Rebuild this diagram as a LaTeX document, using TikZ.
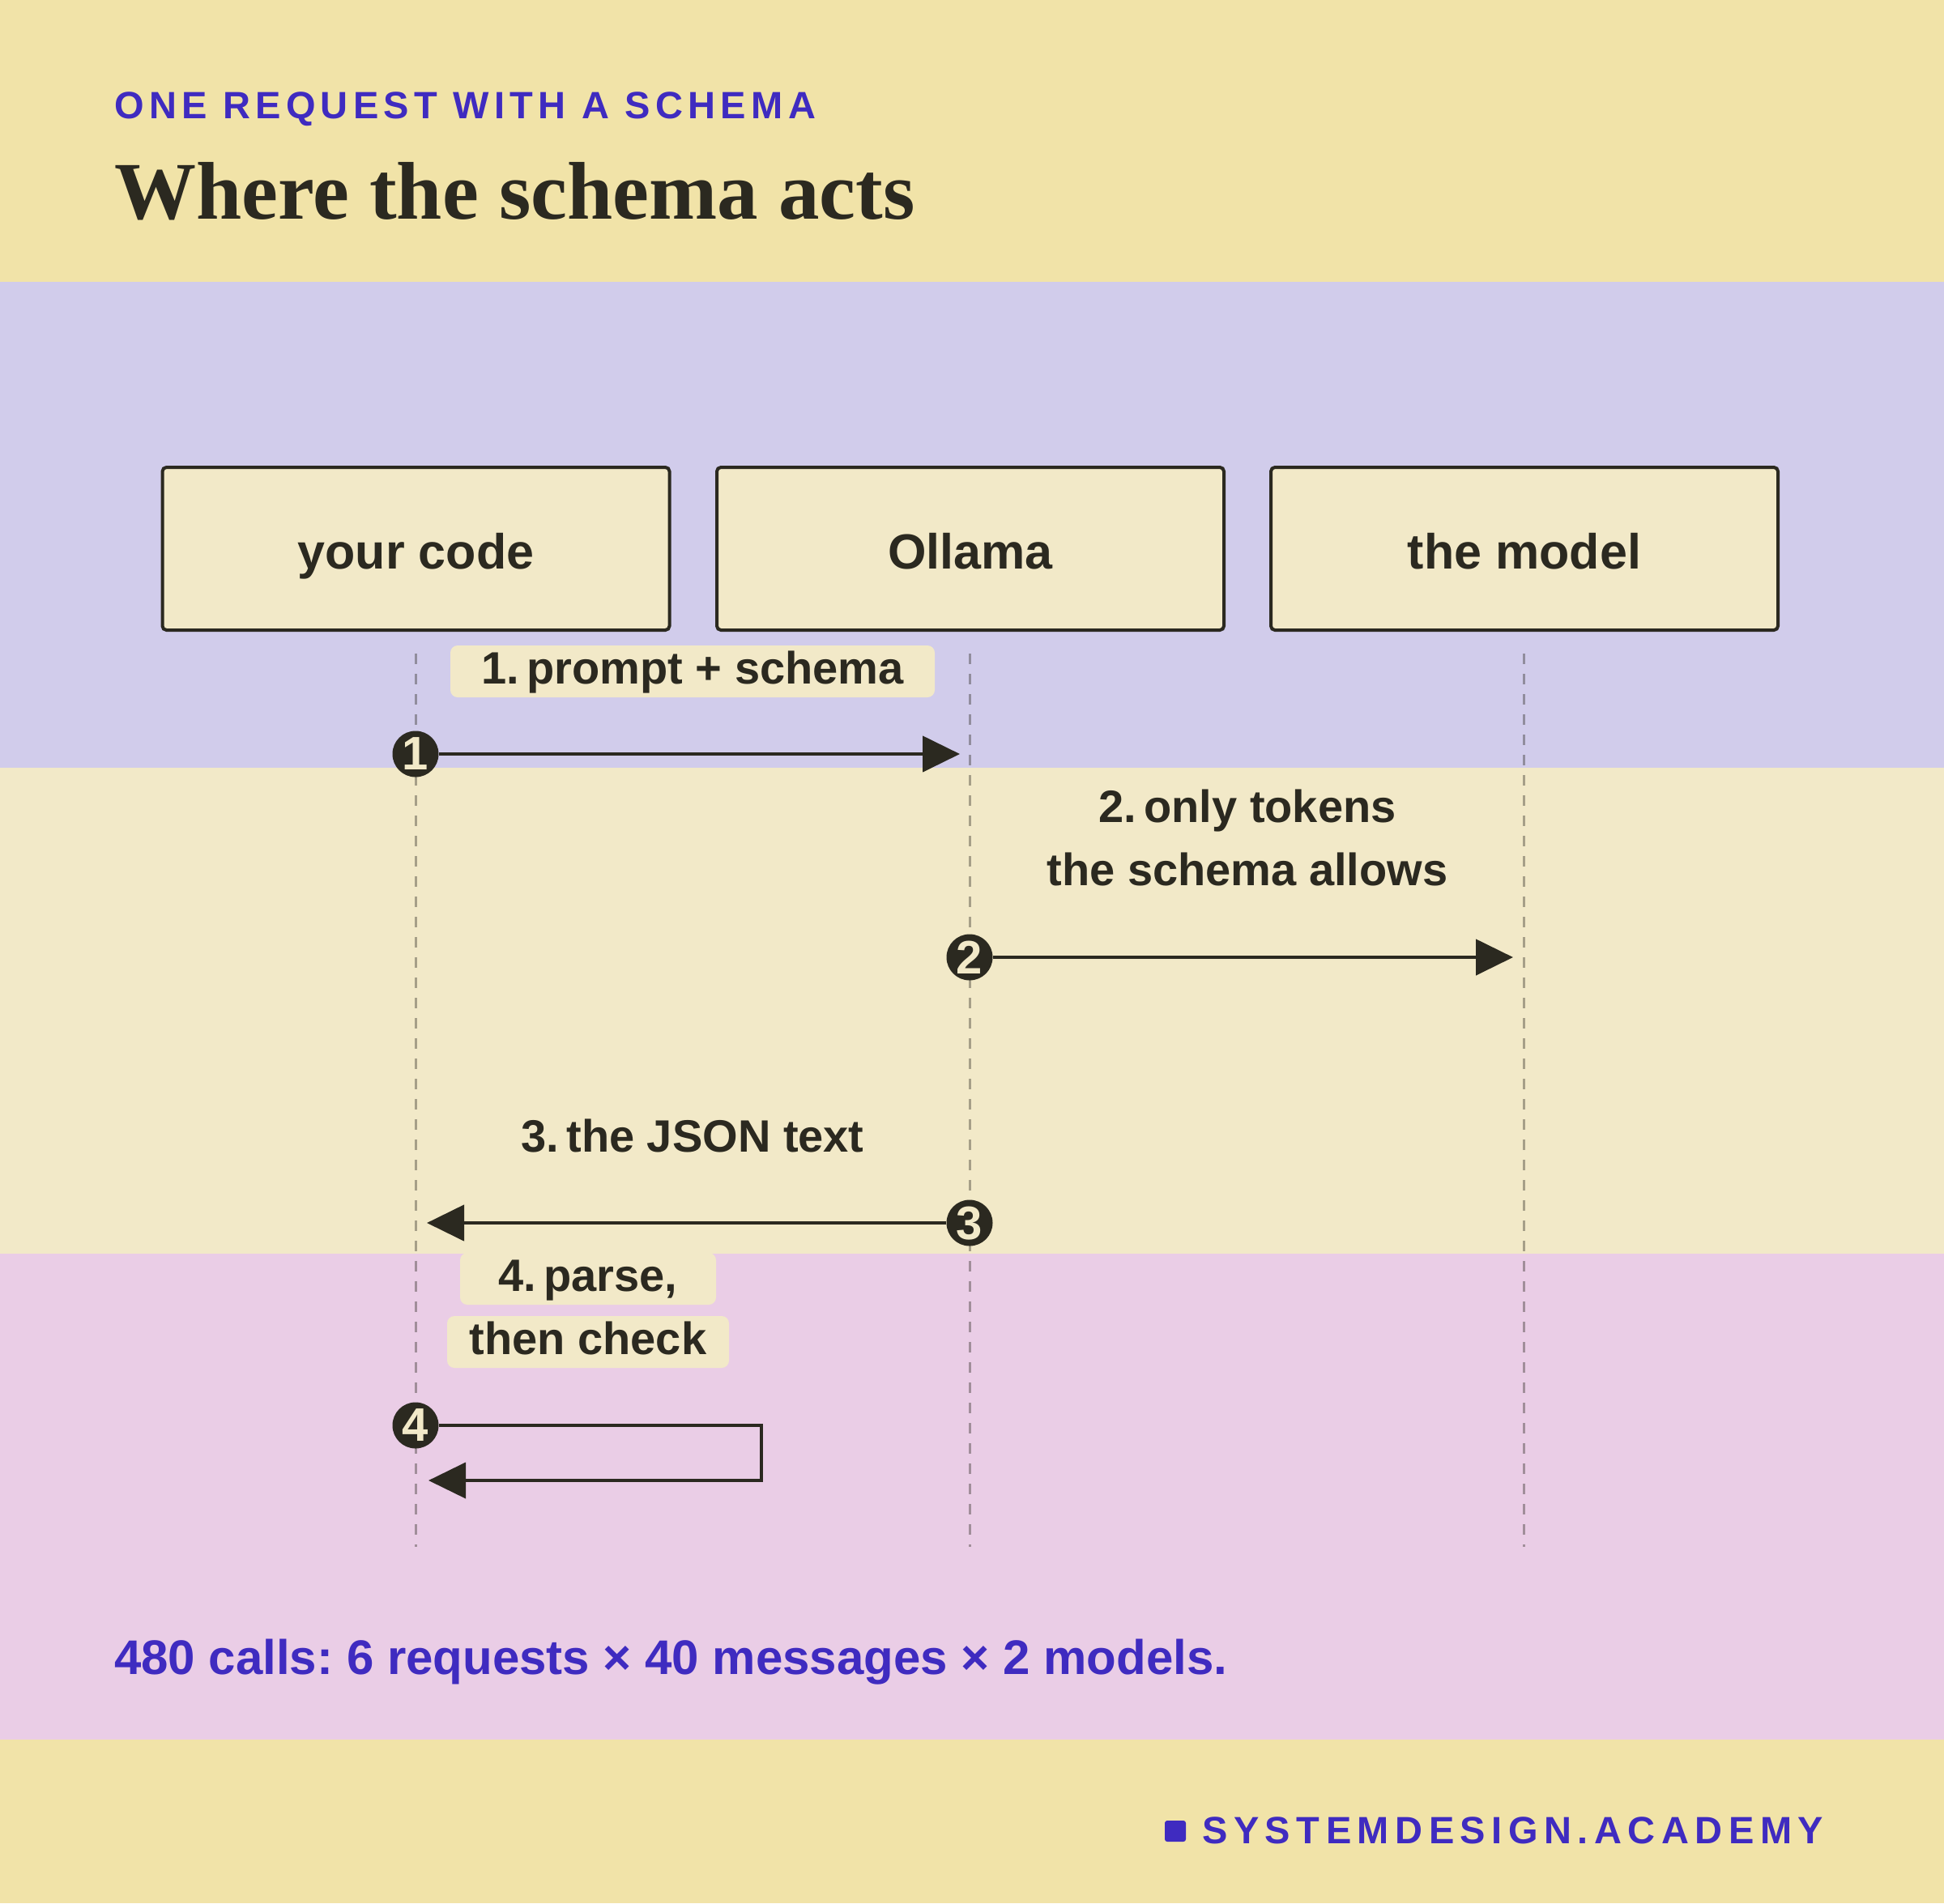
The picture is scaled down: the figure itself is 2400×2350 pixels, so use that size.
\documentclass[tikz,border=0pt]{standalone}
\usepackage{fontspec}
\setmainfont{Liberation Sans}
\newfontfamily\titlefont{Liberation Serif}
\newfontfamily\capsfont[LetterSpace=13.5]{Liberation Sans}
\newfontfamily\brandfont[LetterSpace=16]{Liberation Sans}
\usetikzlibrary{arrows.meta}
\definecolor{bgyellow}{RGB}{241,227,168}
\definecolor{bglav}{RGB}{209,204,235}
\definecolor{bgcream}{RGB}{242,233,200}
\definecolor{bgpink}{RGB}{234,205,230}
\definecolor{inkblue}{RGB}{63,43,192}
\definecolor{ink}{RGB}{43,41,32}
\tikzset{
  actor/.style={draw=ink, line width=4pt, fill=bgcream, rounded corners=5pt,
    minimum width=626pt, minimum height=201pt, inner sep=0pt},
  actortext/.style={anchor=base, text=ink, font=\bfseries\fontsize{61}{70}\selectfont, inner sep=0pt},
  lifeline/.style={draw=ink, draw opacity=0.38, line width=3pt, dash pattern=on 13pt off 12pt},
  pill/.style={fill=bgcream, rounded corners=9pt, text=ink,
    font=\bfseries\fontsize{56}{64}\selectfont, text height=42pt, text depth=12pt,
    inner ysep=5pt, inner xsep=0pt},
  plain/.style={text=ink, font=\bfseries\fontsize{56}{64}\selectfont, anchor=base, inner sep=0pt},
  msg/.style={draw=ink, line width=4.5pt, -{Triangle[length=46pt,width=44pt]}},
  loopmsg/.style={draw=ink, line width=4pt, -{Triangle[length=46pt,width=44pt]}},
  num/.style={circle, fill=ink, text=bgcream, minimum size=57pt, inner sep=0pt,
    font=\bfseries\fontsize{58}{60}\selectfont, text depth=0pt},
}
\begin{document}
\frenchspacing
\begin{tikzpicture}[x=1pt, y=-1pt]
\useasboundingbox (0,0) rectangle (2400,2350);
% bands
\fill[bgyellow] (0,0) rectangle (2400,348);
\fill[bglav] (0,348) rectangle (2400,948);
\fill[bgcream] (0,948) rectangle (2400,1548);
\fill[bgpink] (0,1548) rectangle (2400,2148);
\fill[bgyellow] (0,2148) rectangle (2400,2350);

% header
\node[anchor=base west, inner sep=0pt, text=inkblue, font=\capsfont\bfseries\fontsize{47}{50}\selectfont]
  (kicker) at (141,146) {ONE REQUEST WITH A SCHEMA};
\node[anchor=base west, inner sep=0pt, text=ink, font=\titlefont\bfseries\fontsize{101}{110}\selectfont]
  (title) at (141,270) {Where the schema acts};

% actors
\node[actor] (yc) at (513.5,677.5) {};
\node[actor] (ol) at (1198,677.5) {};
\node[actor] (md) at (1882,677.5) {};
\node[actortext] (yct) at (513.5,702) {your code};
\node[actortext] (olt) at (1198,702) {Ollama};
\node[actortext] (mdt) at (1882,702) {the model};

% lifelines
\coordinate (l1a) at (513,807);  \coordinate (l1b) at (513,1910);
\coordinate (l2a) at (1197,807); \coordinate (l2b) at (1197,1910);
\coordinate (l3a) at (1881,807); \coordinate (l3b) at (1881,1910);
\draw[lifeline] (l1a) -- (l1b);
\draw[lifeline] (l2a) -- (l2b);
\draw[lifeline] (l3a) -- (l3b);

% labels
\node[pill, minimum width=598pt] (lab1) at (855,829) {1.\,prompt + schema};
\node[plain] (lab2a) at (1540,1015) {2.\,only tokens};
\node[plain] (lab2b) at (1540,1093) {the schema allows};
\node[plain] (lab3) at (855,1422) {3.\,the JSON text};
\node[pill, minimum width=316pt] (lab4a) at (726,1579) {4.\,parse,};
\node[pill, minimum width=348pt] (lab4b) at (726,1657) {then check};

% step circles
\node[num] (n1) at (513,931) {1};
\node[num] (n2) at (1197,1182) {2};
\node[num] (n3) at (1197,1510) {3};
\node[num] (n4) at (513,1760) {4};

% messages
\coordinate (t1) at (1185,931);
\coordinate (t2) at (1868,1182);
\coordinate (t3) at (527,1510);
\coordinate (c4a) at (940,1760);
\coordinate (c4b) at (940,1828);
\coordinate (t4) at (529,1828);
\draw[msg] (n1) -- (t1);
\draw[msg] (n2) -- (t2);
\draw[msg] (n3) -- (t3);
\draw[loopmsg] (n4) -- (c4a) -- (c4b) -- (t4);

% footer
\node[anchor=base west, inner sep=0pt, text=inkblue, font=\bfseries\fontsize{60}{66}\selectfont]
  (summary) at (141,2067) {480 calls: 6 requests × 40 messages × 2 models.};
\node[fill=inkblue, rounded corners=3pt, minimum size=26pt, inner sep=0pt] (sq) at (1451,2261) {};
\node[anchor=base west, inner sep=0pt, text=inkblue, font=\brandfont\bfseries\fontsize{47}{50}\selectfont]
  (brand) at (1484,2276) {SYSTEMDESIGN.ACADEMY};
\end{tikzpicture}
\end{document}
